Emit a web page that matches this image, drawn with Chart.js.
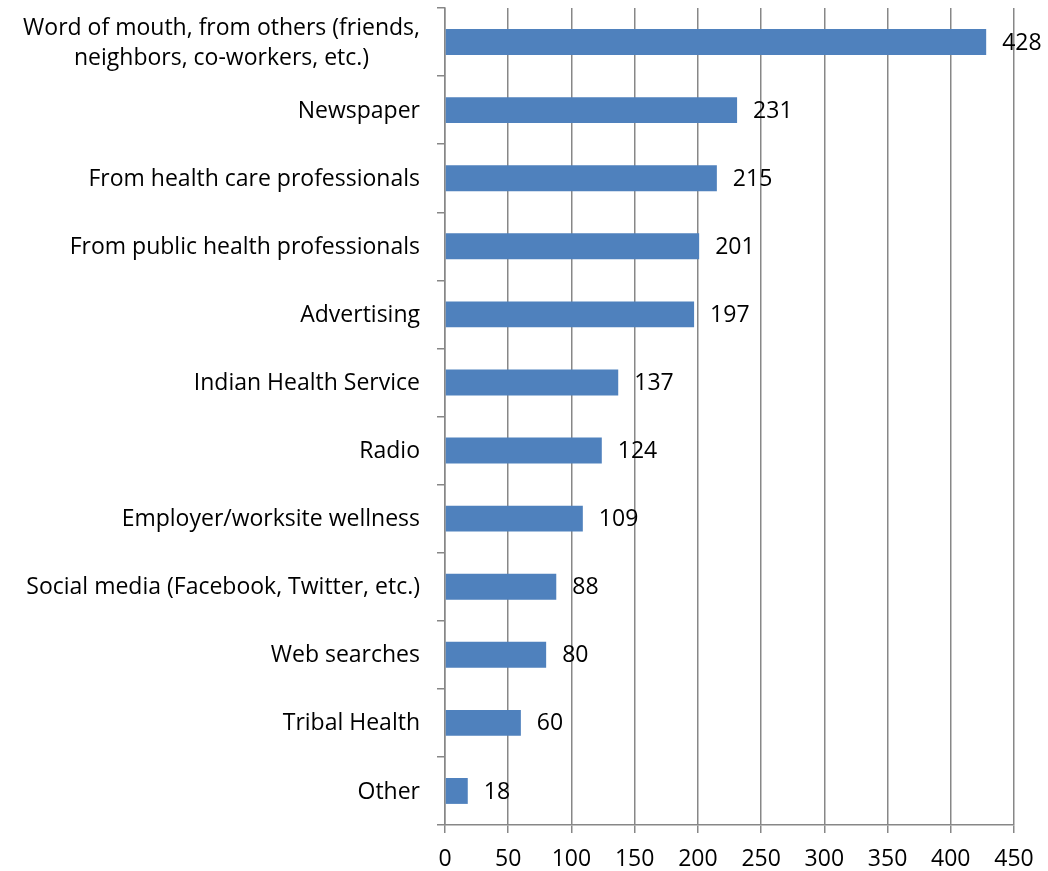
<!DOCTYPE html>
<html>
<head>
<meta charset="utf-8">
<script src="https://cdn.jsdelivr.net/npm/chart.js@4/dist/chart.umd.min.js"></script>
<style>
  html, body { margin: 0; padding: 0; background: #ffffff; }
  #wrap { width: 1048px; height: 871px; position: relative; }
</style>
</head>
<body>
<div id="wrap"><canvas id="chart" width="1048" height="871"></canvas></div>
<script>
// Sources of information, number of responses
const categories = [
  ['Word of mouth, from others (friends,', 'neighbors, co-workers, etc.)'],
  'Newspaper',
  'From health care professionals',
  'From public health professionals',
  'Advertising',
  'Indian Health Service',
  'Radio',
  'Employer/worksite wellness',
  'Social media (Facebook, Twitter, etc.)',
  'Web searches',
  'Tribal Health',
  'Other'
];
const responses = [428, 231, 215, 201, 197, 137, 124, 109, 88, 80, 60, 18];
const xTicks = [0, 50, 100, 150, 200, 250, 300, 350, 400, 450];

const FONT = '"Open Sans", Lato, sans-serif';
const FONT_SIZE = 23;
const LINE_GAP = 30;
const GRID = '#878787';

// Category names: each block sits right-aligned against the axis,
// with the lines of a wrapped name centred on one another.
const categoryLabels = {
  id: 'categoryLabels',
  afterDraw(chart) {
    const ctx = chart.ctx;
    const y = chart.scales.y;
    const right = chart.chartArea.left - 8 - 17;
    ctx.save();
    ctx.font = FONT_SIZE + 'px ' + FONT;
    ctx.fillStyle = '#000000';
    ctx.textBaseline = 'middle';
    ctx.textAlign = 'center';
    categories.forEach((label, i) => {
      const lines = Array.isArray(label) ? label : [label];
      const blockW = Math.max(...lines.map(l => ctx.measureText(l).width));
      const cx = right - blockW / 2;
      const cy = y.getPixelForValue(i);
      const top = cy - (lines.length - 1) * LINE_GAP / 2;
      lines.forEach((l, k) => ctx.fillText(l, cx, top + k * LINE_GAP + 1));
    });
    ctx.restore();
  }
};

// Writes each value just past the end of its bar
const valueLabels = {
  id: 'valueLabels',
  afterDatasetsDraw(chart) {
    const ctx = chart.ctx;
    const meta = chart.getDatasetMeta(0);
    ctx.save();
    ctx.font = FONT_SIZE + 'px ' + FONT;
    ctx.fillStyle = '#000000';
    ctx.textAlign = 'left';
    ctx.textBaseline = 'middle';
    meta.data.forEach((bar, i) => {
      ctx.fillText(String(responses[i]), bar.x + 16, bar.y + 1);
    });
    ctx.restore();
  }
};

new Chart(document.getElementById('chart'), {
  type: 'bar',
  data: {
    labels: categories,
    datasets: [{
      data: responses,
      backgroundColor: '#4F81BD',
      borderWidth: 0,
      categoryPercentage: 1,
      barPercentage: 0.38
    }]
  },
  options: {
    indexAxis: 'y',
    responsive: false,
    animation: false,
    layout: { padding: { left: 0, right: 34, top: 8, bottom: 0 } },
    plugins: {
      legend: { display: false },
      tooltip: { enabled: false }
    },
    scales: {
      x: {
        min: 0,
        max: 450,
        afterBuildTicks(scale) {
          scale.ticks = xTicks.map(v => ({ value: v }));
        },
        afterFit(scale) { scale.height = 871 - 825; },
        grid: {
          color: GRID,
          lineWidth: 1.5,
          tickLength: 8,
          drawTicks: true
        },
        border: { color: GRID, width: 1.5 },
        ticks: {
          color: '#000000',
          padding: 13,
          maxRotation: 0,
          font: { family: FONT, size: FONT_SIZE }
        }
      },
      y: {
        afterFit(scale) {
          scale.width = 445;
          scale.paddingTop = 0;
          scale.paddingBottom = 0;
        },
        grid: {
          display: true,
          drawOnChartArea: false,
          offset: true,
          color: GRID,
          lineWidth: 1.5,
          tickLength: 8
        },
        border: { color: GRID, width: 1.5 },
        ticks: { display: false, autoSkip: false }
      }
    }
  },
  plugins: [valueLabels, categoryLabels]
});
</script>
</body>
</html>
